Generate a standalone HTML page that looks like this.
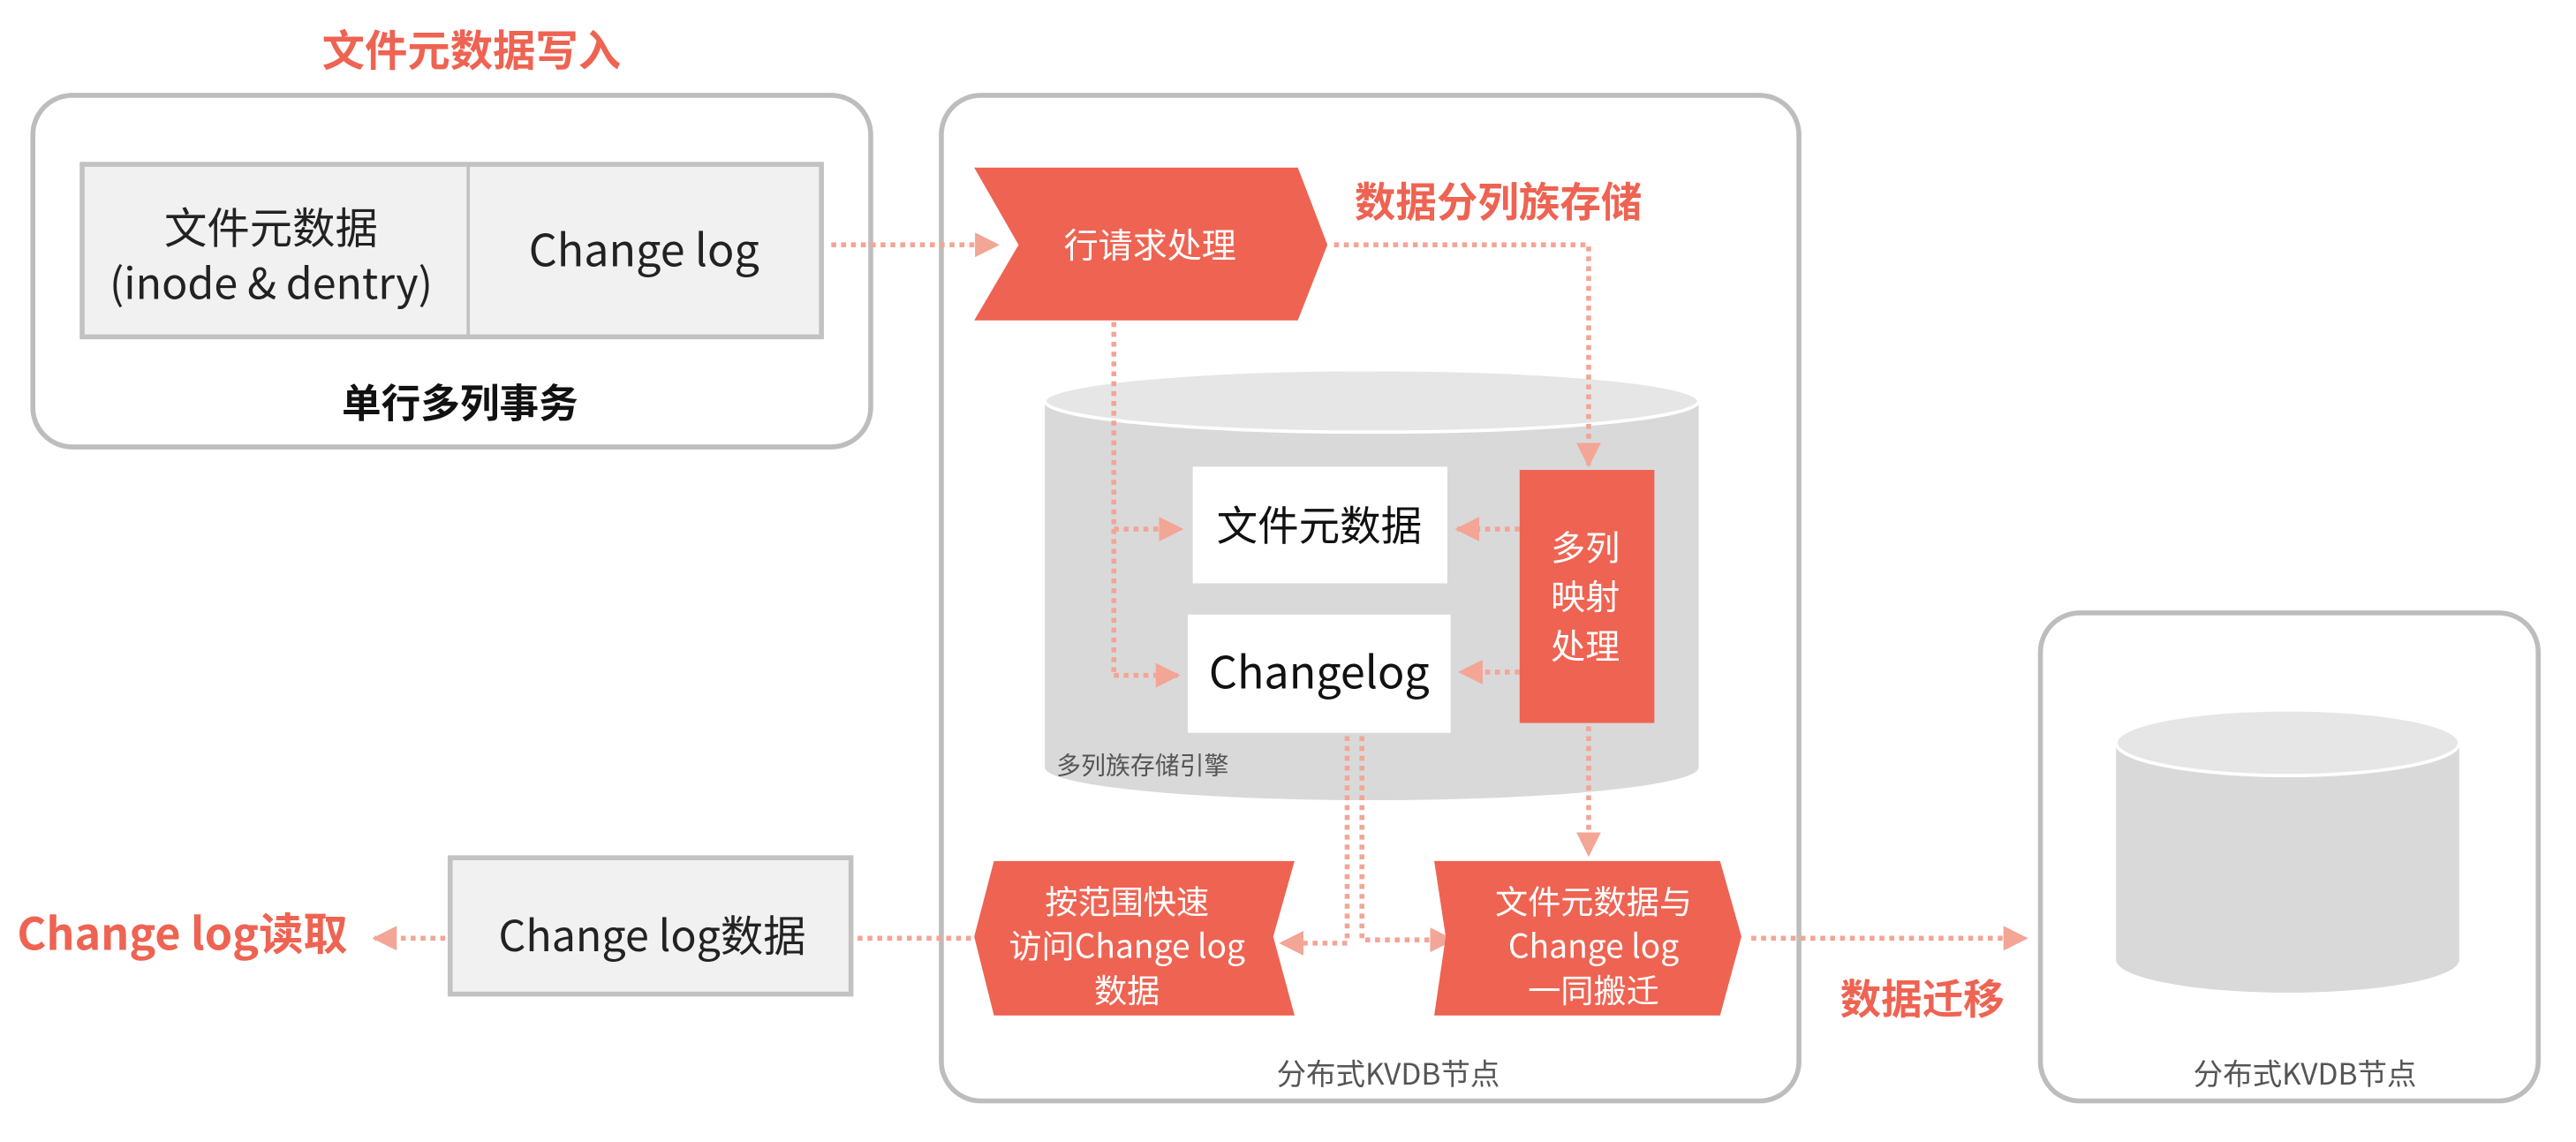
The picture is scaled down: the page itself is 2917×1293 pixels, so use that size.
<!DOCTYPE html>
<html><head><meta charset="utf-8"><style>
html,body{margin:0;padding:0;background:#fff}
svg{display:block}
text{font-family:"Noto Sans CJK SC","Liberation Sans",sans-serif}
</style></head><body>
<svg width="2917" height="1293" viewBox="0 0 1568 695" preserveAspectRatio="none" xmlns="http://www.w3.org/2000/svg">
<defs>
<marker id="ar" viewBox="0 0 10 10" refX="9" refY="5" markerWidth="5" markerHeight="5" orient="auto" markerUnits="strokeWidth"><path d="M0,0 L10,5 L0,10 z" fill="#f3a596"/></marker>
</defs>
<!-- left box -->
<rect x="20" y="58" width="510" height="214" rx="24" fill="none" stroke="#bdbdbd" stroke-width="3"/>
<rect x="50" y="100" width="450" height="105" fill="#f1f1f1" stroke="#c2c2c2" stroke-width="3"/>
<line x1="285" y1="100" x2="285" y2="205" stroke="#c2c2c2" stroke-width="2"/>
<text x="165" y="148" font-size="26" text-anchor="middle" fill="#222">文件元数据</text>
<text x="165" y="182" font-size="26" text-anchor="middle" fill="#222">(inode &amp; dentry)</text>
<text x="392" y="162" font-size="27" text-anchor="middle" fill="#222">Change log</text>
<text x="280" y="254" font-size="24" font-weight="bold" text-anchor="middle" fill="#111">单行多列事务</text>
<text x="287" y="40" font-size="26" font-weight="bold" text-anchor="middle" fill="#ee6352">文件元数据写入</text>
<!-- middle box -->
<rect x="573" y="58" width="522" height="612" rx="24" fill="none" stroke="#bdbdbd" stroke-width="3"/>
<!-- cylinder -->
<path d="M636,244 L636,467 A199,20 0 0 0 1034,467 L1034,244 z" fill="#d9d9d9"/>
<ellipse cx="835" cy="244" rx="199" ry="19" fill="#e6e6e6" stroke="#fff" stroke-width="2"/>
<g fill="none" stroke="#f3a596" stroke-width="3" stroke-dasharray="3 3">
<path d="M506,149 L607,149" marker-end="url(#ar)"/>
<path d="M812,149 L967,149 L967,283" marker-end="url(#ar)"/>
<path d="M678,196 L678,411"/>
<path d="M678,322 L719,322" marker-end="url(#ar)"/>
<path d="M678,411 L717,411" marker-end="url(#ar)"/>
<path d="M925,322 L887,322" marker-end="url(#ar)"/>
<path d="M925,409 L889,409" marker-end="url(#ar)"/>
<path d="M967,442 L967,520" marker-end="url(#ar)"/>
<path d="M820,448 L820,574 L780,574" marker-end="url(#ar)"/>
<path d="M829,448 L829,572 L884,572" marker-end="url(#ar)"/>
<path d="M1066,571 L1233,571" marker-end="url(#ar)"/>
<path d="M591,571 L522,571"/>
<path d="M271,571 L228,571" marker-end="url(#ar)"/>
</g>
<path d="M593,102 L790,102 L808,149 L790,195 L593,195 L620,149 z" fill="#ee6352"/>
<text x="700" y="157" font-size="21" text-anchor="middle" fill="#fff">行请求处理</text>
<text x="912" y="132" font-size="25" font-weight="bold" text-anchor="middle" fill="#ee6352">数据分列族存储</text>
<rect x="726" y="284" width="155" height="71" fill="#fff"/>
<text x="803" y="329" font-size="25" text-anchor="middle" fill="#111">文件元数据</text>
<rect x="723" y="374" width="160" height="72" fill="#fff"/>
<text x="803" y="419" font-size="27" text-anchor="middle" fill="#111">Changelog</text>
<rect x="925" y="286" width="82" height="154" fill="#ee6352"/>
<text x="965" y="341" font-size="21" text-anchor="middle" fill="#fff">多列</text>
<text x="965" y="371" font-size="21" text-anchor="middle" fill="#fff">映射</text>
<text x="965" y="401" font-size="21" text-anchor="middle" fill="#fff">处理</text>
<text x="643" y="471" font-size="15" fill="#555">多列族存储引擎</text>
<!-- bottom shapes -->
<path d="M605,524 L788,524 L775,570 L788,618 L605,618 L593,570 z" fill="#ee6352"/>
<text x="686" y="556" font-size="20" text-anchor="middle" fill="#fff">按范围快速</text>
<text x="686" y="583" font-size="20" text-anchor="middle" fill="#fff">访问Change log</text>
<text x="686" y="610" font-size="20" text-anchor="middle" fill="#fff">数据</text>
<path d="M873,524 L1047,524 L1060,570 L1047,618 L873,618 L880,570 z" fill="#ee6352"/>
<text x="970" y="556" font-size="20" text-anchor="middle" fill="#fff">文件元数据与</text>
<text x="970" y="583" font-size="20" text-anchor="middle" fill="#fff">Change log</text>
<text x="970" y="610" font-size="20" text-anchor="middle" fill="#fff">一同搬迁</text>
<text x="1170" y="617" font-size="25" font-weight="bold" text-anchor="middle" fill="#ee6352">数据迁移</text>
<text x="845" y="660" font-size="18" text-anchor="middle" fill="#555">分布式KVDB节点</text>
<!-- Changelog data -->
<rect x="274" y="522" width="244" height="83" fill="#f1f1f1" stroke="#c2c2c2" stroke-width="3"/>
<text x="397" y="579" font-size="26" text-anchor="middle" fill="#222">Change log数据</text>
<text x="111" y="578" font-size="27" font-weight="bold" text-anchor="middle" fill="#ee6352">Change log读取</text>
<!-- right box -->
<rect x="1242" y="373" width="303" height="297" rx="24" fill="none" stroke="#bdbdbd" stroke-width="3"/>
<path d="M1288,452 L1288,584 A104,20 0 0 0 1497,584 L1497,452 z" fill="#d9d9d9"/>
<ellipse cx="1392.5" cy="452" rx="104.5" ry="20" fill="#e6e6e6" stroke="#fff" stroke-width="2"/>
<text x="1403" y="660" font-size="18" text-anchor="middle" fill="#555">分布式KVDB节点</text>
</svg>
</body></html>
